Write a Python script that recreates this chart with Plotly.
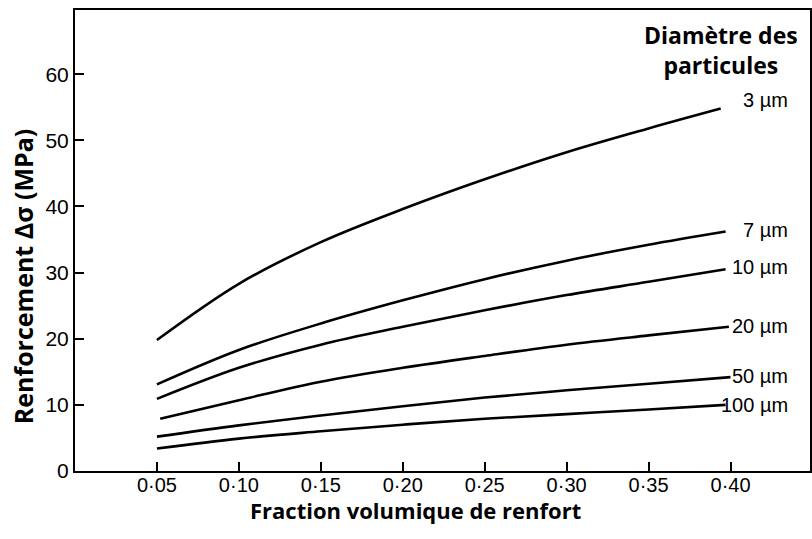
import plotly.graph_objects as go

# ---- data ----
x_pts = [0.05, 0.10, 0.15, 0.20, 0.25, 0.30, 0.35]
series_names = ["3 µm", "7 µm", "10 µm", "20 µm", "50 µm", "100 µm"]
x_start = [0.05, 0.05, 0.05, 0.052, 0.05, 0.05]
x_end = [0.394, 0.397, 0.397, 0.399, 0.40, 0.397]
s3 = [19.8, 28.3, 34.6, 39.6, 44.1, 48.2, 51.8, 54.8]
s7 = [13.1, 18.3, 22.3, 25.8, 29.0, 31.8, 34.2, 36.2]
s10 = [10.9, 15.6, 19.1, 21.8, 24.3, 26.6, 28.6, 30.5]
s20 = [7.9, 10.7, 13.5, 15.6, 17.4, 19.1, 20.5, 21.8]
s50 = [5.2, 6.9, 8.4, 9.8, 11.1, 12.2, 13.2, 14.2]
s100 = [3.4, 4.9, 6.0, 7.0, 7.9, 8.6, 9.3, 10.0]
series_values = [s3, s7, s10, s20, s50, s100]
label_yshift = [9, 2, 2, 1, 1, 0]

x_tick_vals = [0.05, 0.10, 0.15, 0.20, 0.25, 0.30, 0.35, 0.40]
x_tick_text = ["0·05", "0·10", "0·15", "0·20", "0·25", "0·30", "0·35", "0·40"]
y_tick_vals = [0, 10, 20, 30, 40, 50, 60]

x_title = "Fraction volumique de renfort"
y_title = "Renforcement Δσ (MPa)"
legend_title = "Diamètre des<br>particules"

# plot-area geometry in pixels (for placing free text)
L, T, R, B = 74.5, 10, 810, 471.5
W, H = R - L, B - T


def px_to_paper(px, py):
    return (px - L) / W, (B - py) / H


fig = go.Figure()
label_x = 0.436
for name, xs0, xe, vals, ysh in zip(series_names, x_start, x_end, series_values, label_yshift):
    xs = [xs0] + x_pts[1:] + [xe]
    fig.add_trace(go.Scatter(
        x=xs, y=vals, mode="lines", name=name,
        line=dict(color="black", width=2.6, shape="spline", smoothing=1.0),
        showlegend=False, hoverinfo="skip"))
    fig.add_annotation(x=label_x, y=vals[-1], xref="x", yref="y", text=name,
                       showarrow=False, xanchor="right", yanchor="middle", yshift=ysh,
                       font=dict(family="Liberation Sans, Arial", size=20, color="black"))

px, py = px_to_paper(721, 50)
fig.add_annotation(x=px, y=py, xref="paper", yref="paper", text=legend_title,
                   showarrow=False, xanchor="center", yanchor="middle",
                   font=dict(family="Open Sans", size=23, color="black", weight="bold"))

px, py = px_to_paper(22, 277)
fig.add_annotation(x=px, y=py, xref="paper", yref="paper",
                   text=y_title, textangle=-90, showarrow=False, xanchor="center", yanchor="middle",
                   font=dict(family="Open Sans", size=25, color="black", weight="bold"))
px, py = px_to_paper(415, 511)
fig.add_annotation(x=px, y=py, xref="paper", yref="paper",
                   text=x_title, showarrow=False, xanchor="center", yanchor="middle",
                   font=dict(family="Open Sans", size=22, color="black", weight="bold"))

fig.update_layout(
    template="none",
    width=812, height=539,
    margin=dict(l=L, r=812 - R, t=T, b=539 - B, pad=0),
    paper_bgcolor="white", plot_bgcolor="white",
    xaxis=dict(range=[0, 0.4485], tickvals=x_tick_vals, ticktext=x_tick_text,
               automargin=False,
               showgrid=False, zeroline=False, showline=True, linecolor="black", linewidth=2,
               mirror=True, ticks="inside", ticklen=9, tickwidth=2, tickcolor="black",
               ticklabelstandoff=-5,
               tickfont=dict(family="Liberation Sans, Arial", size=20, color="black")),
    yaxis=dict(range=[0, 69.7], tickvals=y_tick_vals,
               automargin=False,
               showgrid=False, zeroline=False, showline=True, linecolor="black", linewidth=2,
               mirror=True, ticks="inside", ticklen=9, tickwidth=2, tickcolor="black",
               ticklabelstandoff=0,
               tickfont=dict(family="Liberation Sans, Arial", size=21, color="black")),
)

fig.write_html("out.html", config={"displayModeBar": False},
               post_script="document.body.style.margin='0';")
